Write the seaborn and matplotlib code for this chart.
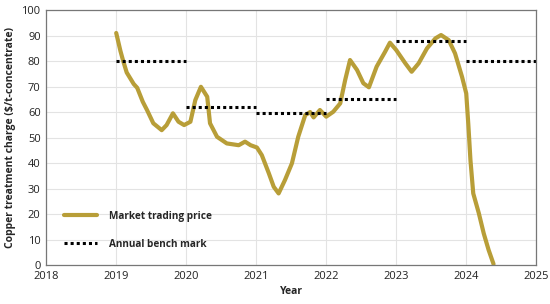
"""Copper treatment charge: market trading price vs annual benchmark."""

import matplotlib

matplotlib.use("Agg")
import matplotlib.pyplot as plt
import pandas as pd
import seaborn as sns

# Market trading price
price_year = [
    2019.0, 2019.06, 2019.1, 2019.15, 2019.25, 2019.3, 2019.38, 2019.44,
    2019.53, 2019.65, 2019.72, 2019.81, 2019.89, 2019.97, 2020.06, 2020.13,
    2020.21, 2020.3, 2020.34, 2020.44, 2020.58, 2020.75, 2020.84, 2020.92,
    2021.01, 2021.08, 2021.18, 2021.25, 2021.32, 2021.41, 2021.51, 2021.6,
    2021.7, 2021.77, 2021.82, 2021.91, 2022.0, 2022.1, 2022.2, 2022.27,
    2022.34, 2022.44, 2022.53, 2022.61, 2022.72, 2022.84, 2022.91, 2023.0,
    2023.13, 2023.22, 2023.32, 2023.44, 2023.56, 2023.64, 2023.75, 2023.84,
    2023.94, 2024.0, 2024.03, 2024.06, 2024.1, 2024.18, 2024.25, 2024.32,
    2024.39,
]
price_value = [
    91, 84, 80, 75.5, 71, 69.5, 64, 60.8,
    55.6, 52.9, 54.9, 59.5, 56.2, 54.9, 56.2, 64.7,
    69.9, 66, 55.6, 50.3, 47.7, 47, 48.4, 47,
    46.1, 43.1, 36, 30.7, 28.1, 33.3, 39.9, 50.3,
    58.8, 60, 57.9, 60.8, 58.2, 60.1, 63.4, 72.5,
    80.4, 76.5, 71.3, 69.7, 77.8, 83.6, 87.2, 84.3,
    79.1, 75.8, 79.1, 85, 88.9, 90.2, 88.2, 83,
    73.8, 67.3, 55, 41.2, 28.1, 20.3, 12.4, 5.9,
    0.4,
]

# Annual benchmark, one value per calendar year
bench_year = [2019, 2020, 2021, 2022, 2023, 2024]
bench_value = [80, 62, 59.5, 65, 88, 80]

sns.set_theme(style="whitegrid")
plt.rcParams["font.family"] = ["Open Sans", "DejaVu Sans"]

price = pd.DataFrame({"year": price_year, "charge": price_value})

fig = plt.figure(figsize=(5.5, 3.04), dpi=100)
ax = fig.add_axes([0.084, 0.128, 0.891, 0.839])

sns.lineplot(data=price, x="year", y="charge", ax=ax, color="#B89E38",
             linewidth=3, label="Market trading price")
ax.hlines(bench_value, bench_year, [y + 1 for y in bench_year],
          colors="black", linestyles=(0, (1, 1)), linewidth=2.2,
          label="Annual bench mark")

ax.set_xlim(2018, 2025)
ax.set_ylim(0, 100)
ax.set_xticks(range(2018, 2026))
ax.set_yticks(range(0, 101, 10))
ax.tick_params(axis="both", labelsize=8, length=0, pad=4, colors="#222222")
ax.grid(color="#E3E3E3", linewidth=0.8)
for side in ax.spines.values():
    side.set_color("#777777")
    side.set_linewidth(0.9)

ax.set_xlabel("Year", fontsize=7.5, fontweight="bold", labelpad=3)
ax.set_ylabel("Copper treatment charge ($/t-concentrate)", fontsize=7.5,
              fontweight="bold", labelpad=4)

leg = ax.legend(loc="lower left", bbox_to_anchor=(0.018, 0.025), frameon=False,
                fontsize=7.2, labelspacing=1.7, handlelength=3.3,
                handletextpad=1.2)
for txt in leg.get_texts():
    txt.set_fontweight("bold")

fig.savefig("out.png", dpi=100)
